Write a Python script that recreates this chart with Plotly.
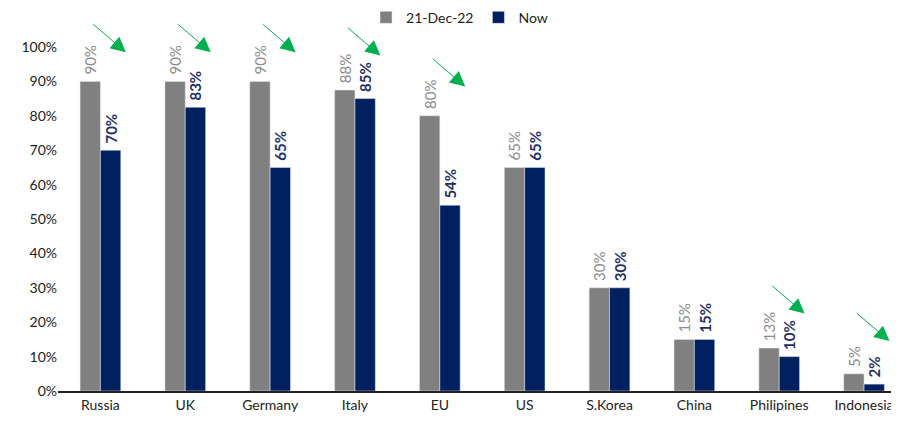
import plotly.graph_objects as go

# --- data ---
countries = ["Russia", "UK", "Germany", "Italy", "EU", "US", "S.Korea", "China", "Philipines", "Indonesia"]
dec22 = [90, 90, 90, 87.5, 80, 65, 30, 15, 12.5, 5]
now = [70, 82.5, 65, 85, 54, 65, 30, 15, 10, 2]
arrow_countries = ["Russia", "UK", "Germany", "Italy", "EU", "Philipines", "Indonesia"]
y_ticks = list(range(0, 101, 10))

FONT = "Lato"
GRAY = "#808080"
NAVY = "#002060"


def pct(v):
    # leading nbsp lifts the rotated label a little off the bar top
    return "\u00a0" + f"{int(v + 0.5)}%"


fig = go.Figure()
fig.add_trace(go.Bar(
    x=countries, y=dec22, name="21-Dec-22", marker=dict(color=GRAY),
    text=[pct(v) for v in dec22], textposition="outside", textangle=-90,
    textfont=dict(color="#8c8c8c", size=15, family=FONT),
    cliponaxis=False, constraintext="none",
))
fig.add_trace(go.Bar(
    x=countries, y=now, name="Now", marker=dict(color=NAVY),
    text=[pct(v) for v in now], textposition="outside", textangle=-90,
    textfont=dict(color="#1f3068", size=15, family=FONT, weight="bold"),
    cliponaxis=False, constraintext="none",
))

# green trend arrows above the countries that fell, clear of both labels
for name in arrow_countries:
    i = countries.index(name)
    fig.add_annotation(
        x=i + 0.3, y=max(dec22[i] + 8.5, now[i] + 12.5), xref="x", yref="y",
        ax=-34, ay=-29, text="", showarrow=True,
        arrowhead=2, arrowsize=3, arrowwidth=1, arrowcolor="#00b050",
    )

# page body has an 8px margin, so the figure is a bit smaller than the window
fig.update_layout(
    width=891, height=413,
    margin=dict(l=50, r=1, t=39, b=30, autoexpand=False),
    paper_bgcolor="white", plot_bgcolor="white",
    font=dict(family=FONT, size=14, color="#222"),
    barmode="group", bargap=0.52, bargroupgap=0,
    showlegend=True,
    legend=dict(orientation="h", x=0.478, xanchor="center", y=1.085, yanchor="middle",
                font=dict(size=14, family=FONT), itemwidth=30, tracegroupgap=0),
    xaxis=dict(type="category", range=[-0.5, 9.4], showline=True, linecolor="#222",
               linewidth=1.5, ticks="", showgrid=False, tickfont=dict(size=14, color="#222")),
    yaxis=dict(range=[0, 100], tickvals=y_ticks, ticktext=[f"{v}%" for v in y_ticks],
               showgrid=False, zeroline=False, showline=False, ticks="",
               tickfont=dict(size=14, color="#222")),
)

fig.write_html("out.html")
